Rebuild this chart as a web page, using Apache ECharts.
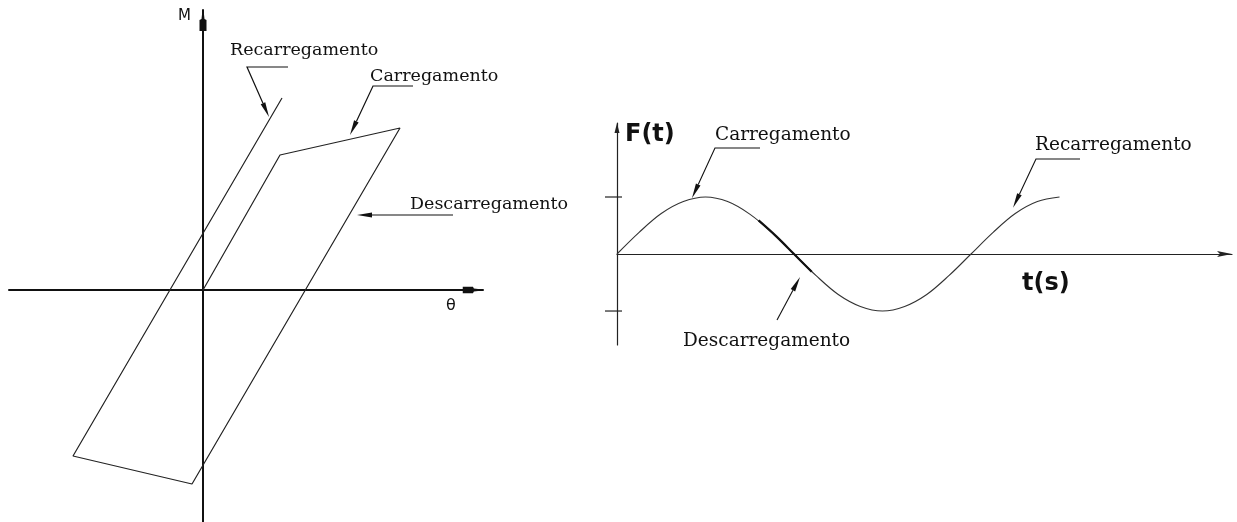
<!DOCTYPE html>
<html>
<head>
<meta charset="utf-8">
<script src="https://cdn.jsdelivr.net/npm/echarts@6/dist/echarts.min.js"></script>
<style>
  html, body { margin: 0; padding: 0; background: #fff; }
  #chart { width: 1237px; height: 522px; }
</style>
</head>
<body>
<div id="chart"></div>
<script>
// Left: moment–rotation hysteresis loop (M vs θ), loading → unloading → reloading
const loopTheta  = [0, 7.7, 19.7, -1.1, -13.0, 7.9];
const loopMoment = [0, 13.5, 16.2, -19.4, -16.6, 19.2];

// Right: cyclic load history F(t)
const timeVals  = [0, 0.25, 0.5, 0.75, 1, 1.25, 1.5, 1.75, 2, 2.25, 2.5, 2.75, 3, 3.25, 3.5, 3.75, 4, 4.25, 4.5, 4.75, 5];
const forceVals = [0, 0.38, 0.71, 0.92, 1, 0.92, 0.70, 0.38, 0, -0.38, -0.71, -0.92, -1, -0.92, -0.71, -0.38, 0, 0.38, 0.71, 0.92, 1];
const forceTicks = [-1, 1];

// Emphasised stretch of the curve where the load reverses through zero
const traceTime  = [1.6, 1.8, 2.0, 2.2];
const traceForce = [0.59, 0.31, 0, -0.31];

// Callout leaders (last point is the arrow tip)
const loopLeaders = [
  [[8.5, 22.3], [4.4, 22.3], [6.6, 17.3]],
  [[21.0, 20.4], [17.0, 20.4], [14.7, 15.5]],
  [[25.0, 7.5], [15.4, 7.5]]
];
const historyLeaders = [
  [[1.616, 1.86], [1.107, 1.86], [0.847, 0.98]],
  [[5.232, 1.667], [4.734, 1.667], [4.475, 0.81]],
  [[1.808, -1.158], [2.068, -0.404]]
];

const loopData = loopTheta.map((v, i) => [v, loopMoment[i]]);
const forceData = timeVals.map((v, i) => [v, forceVals[i]]);
const traceData = traceTime.map((v, i) => [v, traceForce[i]]);

const ink = '#111';
const serif = '"DejaVu Serif", serif';
const sans = '"DejaVu Sans", sans-serif';

function plainAxis(extra) {
  return Object.assign({
    type: 'value',
    axisTick: { show: false },
    axisLabel: { show: false },
    splitLine: { show: false }
  }, extra);
}

function leaderSeries(axisIdx, leaders, headLen, headWid, lw) {
  return {
    type: 'custom',
    xAxisIndex: axisIdx,
    yAxisIndex: axisIdx,
    silent: true,
    clip: false,
    data: leaders.map(l => l[l.length - 1]),
    renderItem(params, api) {
      const pts = leaders[params.dataIndex].map(p => api.coord(p));
      const n = pts.length;
      const tip = pts[n - 1], prev = pts[n - 2];
      let dx = tip[0] - prev[0], dy = tip[1] - prev[1];
      const d = Math.hypot(dx, dy);
      dx /= d; dy /= d;
      const bx = tip[0] - dx * headLen, by = tip[1] - dy * headLen;
      const nx = -dy * headWid / 2, ny = dx * headWid / 2;
      return {
        type: 'group',
        children: [
          { type: 'polyline', shape: { points: pts.slice(0, n - 1).concat([[bx, by]]) },
            style: { stroke: ink, lineWidth: lw, fill: null } },
          { type: 'polygon', shape: { points: [tip, [bx + nx, by + ny], [bx - nx, by - ny]] },
            style: { fill: ink } }
        ]
      };
    }
  };
}

function label(text, x, y, font, align) {
  return {
    type: 'text', x: x, y: y, silent: true,
    style: { text: text, font: font, fill: ink, align: align || 'left', verticalAlign: 'middle' }
  };
}

// Heavy arrowheads of the loop axes: thin neck, then a solid block
const heavyArrow = 'path://M3,0 L4,0 L5,9 L7,10 L7,21 L0,21 L0,10 L2,9 Z';

const chart = echarts.init(document.getElementById('chart'), null, { renderer: 'canvas' });

chart.setOption({
  backgroundColor: '#fff',
  animation: false,
  grid: [
    { left: 9, top: 10, width: 474, height: 512 },
    { left: 617, top: 123, width: 615, height: 222 }
  ],
  xAxis: [
    plainAxis({
      gridIndex: 0, min: -19.4, max: 28,
      axisLine: {
        onZero: true, lineStyle: { color: ink, width: 2 },
        symbol: ['none', heavyArrow],
        symbolSize: [6.5, 21], symbolOffset: [0, -10.5]
      }
    }),
    plainAxis({
      gridIndex: 1, min: 0, max: 6.949,
      axisLine: {
        onZero: true, lineStyle: { color: '#222', width: 1.2 },
        symbol: ['none', 'path://M3,0 L6,15 L3,12 L0,15 Z'],
        symbolSize: [6, 15], symbolOffset: [0, -7.5]
      }
    })
  ],
  yAxis: [
    plainAxis({
      gridIndex: 0, min: -23.2, max: 28,
      axisLine: {
        onZero: true, lineStyle: { color: ink, width: 2 },
        symbol: ['none', heavyArrow],
        symbolSize: [7, 21], symbolOffset: [0, -10.5]
      }
    }),
    plainAxis({
      gridIndex: 1, min: -1.596, max: 2.298,
      axisLine: {
        onZero: true, lineStyle: { color: '#222', width: 1.2 },
        symbol: ['none', 'path://M2.5,0 L5,10 L0,10 Z'],
        symbolSize: [5, 10], symbolOffset: [0, -5]
      }
    })
  ],
  series: [
    {
      type: 'line', xAxisIndex: 0, yAxisIndex: 0, data: loopData,
      showSymbol: false, silent: true,
      lineStyle: { color: '#222', width: 1.2 }
    },
    {
      type: 'line', xAxisIndex: 1, yAxisIndex: 1, data: forceData,
      showSymbol: false, silent: true, smooth: 0.35,
      lineStyle: { color: '#333', width: 1.1 }
    },
    {
      type: 'line', xAxisIndex: 1, yAxisIndex: 1, data: traceData,
      showSymbol: false, silent: true, smooth: 0.35,
      lineStyle: { color: ink, width: 2.2 }
    },
    {
      type: 'custom', xAxisIndex: 1, yAxisIndex: 1, silent: true, clip: false,
      data: forceTicks.map(v => [0, v]),
      renderItem(params, api) {
        const p = api.coord([0, api.value(1)]);
        return { type: 'line', shape: { x1: p[0] - 12, y1: p[1], x2: p[0] + 5, y2: p[1] },
                 style: { stroke: '#222', lineWidth: 1.2 } };
      }
    },
    leaderSeries(0, loopLeaders, 15, 5, 1.2),
    leaderSeries(1, historyLeaders, 15, 5, 1.1)
  ],
  graphic: [
    label('M', 184.5, 16, '15px ' + sans, 'center'),
    label('θ', 451, 305.5, '16px ' + sans, 'center'),
    label('Recarregamento', 230, 50, '17.5px ' + serif),
    label('Carregamento', 370, 76, '17.5px ' + serif),
    label('Descarregamento', 410, 204, '17.5px ' + serif),
    label('F(t)', 625, 135, 'bold 24px ' + sans),
    label('t(s)', 1022, 284, 'bold 24px ' + sans),
    label('Carregamento', 715, 135.5, '18.5px ' + serif),
    label('Recarregamento', 1035, 145, '18.5px ' + serif),
    label('Descarregamento', 683, 341, '18.5px ' + serif)
  ]
});
</script>
</body>
</html>
